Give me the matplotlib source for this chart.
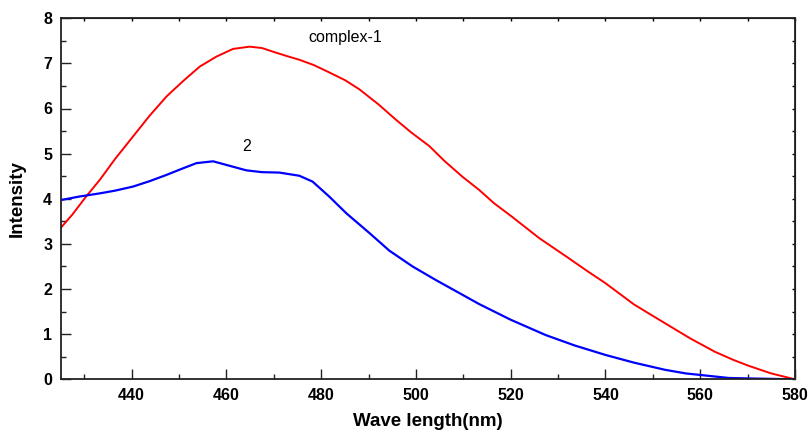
import matplotlib.pyplot as plt
from matplotlib.ticker import MultipleLocator, NullFormatter

plt.rcParams['font.family'] = ['Liberation Sans', 'DejaVu Sans']

# complex-1 (red)
wl_1 = [425, 427.5, 430.4, 433.3, 436.5, 440.3, 443.8, 447.4, 451, 454.4, 457.9,
        461.4, 464.9, 467.5, 469.8, 472.5, 475.4, 478.5, 481.5, 485, 488, 492,
        495.8, 499, 502.8, 506, 509.8, 513.3, 516.5, 520.3, 526, 532.3, 536,
        540, 546, 552.6, 558, 563.1, 567, 570.2, 575, 580]
int_1 = [3.35, 3.65, 4.05, 4.42, 4.88, 5.38, 5.84, 6.27, 6.62, 6.93, 7.15,
         7.32, 7.37, 7.34, 7.26, 7.17, 7.08, 6.96, 6.81, 6.63, 6.43, 6.1,
         5.75, 5.47, 5.17, 4.84, 4.49, 4.2, 3.9, 3.6, 3.13, 2.68, 2.41,
         2.13, 1.66, 1.24, 0.9, 0.61, 0.43, 0.3, 0.13, 0.0]

# 2 (blue)
wl_2 = [425, 429, 433.3, 436.5, 440.3, 443.8, 447.4, 450.5, 453.7, 457.2, 460,
        464.2, 467.5, 471.2, 475.4, 478.2, 481.7, 485.3, 490.2, 494.4, 499.3,
        504.2, 508.5, 513.3, 520, 527.4, 533.5, 540, 546, 552.6, 557, 562.4,
        566, 570, 575, 580]
int_2 = [3.97, 4.05, 4.12, 4.18, 4.27, 4.39, 4.53, 4.66, 4.79, 4.83, 4.75,
         4.63, 4.59, 4.58, 4.51, 4.38, 4.05, 3.68, 3.24, 2.85, 2.50,
         2.20, 1.95, 1.67, 1.32, 0.98, 0.75, 0.54, 0.37, 0.21, 0.13, 0.07,
         0.03, 0.02, 0.01, 0.0]

fig = plt.figure(figsize=(8.09, 4.34), dpi=100)
ax = fig.add_axes([0.0748, 0.126, 0.9079, 0.832])

ax.plot(wl_1, int_1, color='#ff0000', lw=1.4)
ax.plot(wl_2, int_2, color='#0000ff', lw=1.6)

ax.text(485, 7.57, 'complex-1', fontsize=11.5, ha='center', va='center')
ax.text(464.3, 5.15, '2', fontsize=11.5, ha='center', va='center')

ax.set_xlim(425, 580)
ax.set_ylim(0, 8)
ax.xaxis.set_major_locator(MultipleLocator(20))
ax.xaxis.set_minor_locator(MultipleLocator(10))
ax.yaxis.set_major_locator(MultipleLocator(1))
ax.yaxis.set_minor_locator(MultipleLocator(0.5))
ax.tick_params(which='both', direction='in', width=1, colors='#222222')
ax.tick_params(which='major', length=7, labelsize=11.5, labelcolor='black')
ax.tick_params(which='minor', length=3.5)
ax.tick_params(axis='x', which='major', pad=6)
ax.tick_params(axis='y', which='major', pad=6)
for lab in ax.get_xticklabels() + ax.get_yticklabels():
    lab.set_fontweight('bold')

# short ticks on the top and right edges
top = ax.secondary_xaxis('top')
top.xaxis.set_major_locator(MultipleLocator(10))
top.xaxis.set_major_formatter(NullFormatter())
top.tick_params(direction='in', length=2, width=1)
right = ax.secondary_yaxis('right')
right.yaxis.set_major_locator(MultipleLocator(0.5))
right.yaxis.set_major_formatter(NullFormatter())
right.tick_params(direction='in', length=2, width=1)

for s in ax.spines.values():
    s.set_linewidth(1.3)
    s.set_color('#222222')

ax.set_xlabel('Wave length(nm)', fontsize=13.5, fontweight='bold')
ax.set_ylabel('Intensity', fontsize=13.5, fontweight='bold')
ax.xaxis.set_label_coords(0.5, -0.092)
ax.yaxis.set_label_coords(-0.047, 0.5)

fig.savefig('out.png', dpi=100)
